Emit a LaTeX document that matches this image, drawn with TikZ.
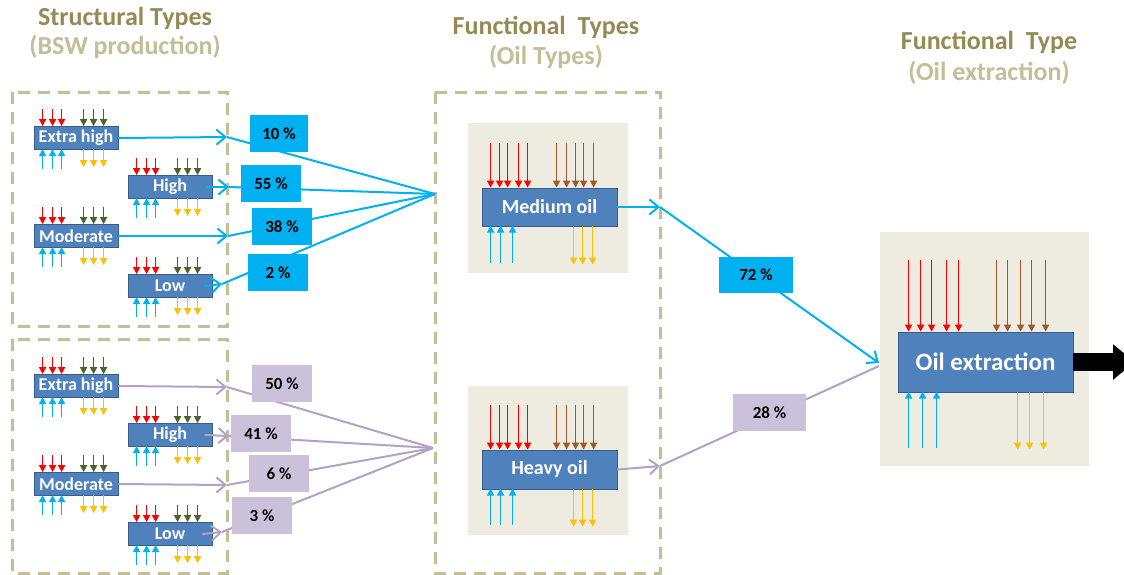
\documentclass[tikz,border=0pt]{standalone}
\usepackage{fontspec}
\setmainfont{Carlito}
\usetikzlibrary{arrows.meta}

\definecolor{boxblue}{HTML}{4F81BD}
\definecolor{boxedge}{HTML}{385D8A}
\definecolor{cyanflow}{HTML}{00B0F0}
\definecolor{lilacflow}{HTML}{B3A2C7}
\definecolor{lilacfill}{HTML}{CCC1DA}
\definecolor{oilbg}{HTML}{EEECE1}
\definecolor{dashtan}{HTML}{C4BD97}
\definecolor{titletan}{HTML}{948A54}
\definecolor{olive}{HTML}{4F6228}
\definecolor{amber}{HTML}{FFC000}
\definecolor{rust}{HTML}{9C5B26}

\tikzstyle{stype}=[draw=boxedge, fill=boxblue, text=white, inner sep=0pt,
  font=\bfseries\fontsize{9}{10}\selectfont, minimum width=42pt, minimum height=11.5pt]
\tikzstyle{ftype}=[stype, font=\bfseries\fontsize{10}{12}\selectfont,
  minimum width=67.5pt, minimum height=19pt]
\tikzstyle{oilback}=[fill=oilbg, inner sep=0pt]
\tikzstyle{share}=[fill=cyanflow, inner sep=0pt, font=\bfseries\fontsize{8.5}{10}\selectfont,
  minimum width=30pt, minimum height=18.5pt]
\tikzstyle{lshare}=[share, fill=lilacfill]
\tikzstyle{headtitle}=[text=titletan, font=\bfseries\fontsize{13}{15}\selectfont]
\tikzstyle{subtitle}=[headtitle, text=dashtan]
\tikzstyle{groupbox}=[draw=dashtan, line width=1.5pt, dash pattern=on 6pt off 4pt]
\tikzstyle{feed}=[line width=1pt, -{Straight Barb[length=4.5pt,width=7.5pt]}]
\tikzstyle{flow}=[line width=0.8pt, -{Triangle[length=3.5pt,width=3.5pt]}]

% three-by-three little flows round a structural type
\newcommand{\smallflows}[1]{%
  \begin{scope}[shift={(#1.north west)}]
    \foreach \dx in {9,19,28} {
      \draw[flow, red] (\dx,-17) -- (\dx,0);
      \draw[flow, cyanflow] (\dx,43) -- (\dx,23);
    }
    \foreach \dx in {50,60,70} {
      \draw[flow, olive] (\dx,-17) -- (\dx,0);
      \draw[flow, amber] (\dx,23) -- (\dx,41);
    }
  \end{scope}}

% flows round a functional type: node, red, brown, top, blue, yellow, height, bottom
\newcommand{\bigflows}[8]{%
  \begin{scope}[shift={(#1.north west)}]
    \foreach \dx in {#2} \draw[flow, red] (\dx,-#4) -- (\dx,0);
    \foreach \dx in {#3} \draw[flow, rust] (\dx,-#4) -- (\dx,0);
    \foreach \dx in {#5} \draw[flow, cyanflow] (\dx,#7+#8) -- (\dx,#7);
    \foreach \dx in {#6} \draw[flow, amber] (\dx,#7) -- (\dx,#7+#8+2);
  \end{scope}}

\begin{document}
\begin{tikzpicture}[x=0.5pt, y=-0.5pt]
  \useasboundingbox (0,0) rectangle (1124,574);

  % headings
  \node[headtitle] (sthead) at (125,18) {Structural Types};
  \node[subtitle] (stsub) at (125,47) {(BSW production)};
  \node[headtitle] (fthead) at (546,27) {Functional\ \ Types};
  \node[subtitle] (ftsub) at (546,57) {(Oil Types)};
  \node[headtitle] (exhead) at (989,42) {Functional\ \ Type};
  \node[subtitle] (exsub) at (989,73) {(Oil extraction)};

  % dashed groups
  \draw[groupbox] (12,92) rectangle (227,326);
  \draw[groupbox] (12,339) rectangle (227,573);
  \draw[groupbox] (435,92) rectangle (660,573);

  % backgrounds
  \node[oilback, minimum width=80pt, minimum height=75pt] (medbg) at (548,198) {};
  \node[oilback, minimum width=80pt, minimum height=74.5pt] (heavybg) at (548,460.5) {};
  \node[oilback, minimum width=104.5pt, minimum height=117pt] (extrbg) at (984.5,349) {};

  % structural types
  \node[stype] (xhA) at (76,138) {Extra high};
  \node[stype] (hiA) at (170,187) {High};
  \node[stype] (modA) at (76,236) {Moderate};
  \node[stype] (lowA) at (170,286) {Low};
  \node[stype] (xhB) at (76,386) {Extra high};
  \node[stype] (hiB) at (170,435) {High};
  \node[stype] (modB) at (76,484) {Moderate};
  \node[stype] (lowB) at (170,534) {Low};
  \foreach \n in {xhA,hiA,modA,lowA,xhB,hiB,modB,lowB} \smallflows{\n};

  % functional types
  \node[ftype] (med) at (549.5,207) {Medium oil};
  \node[ftype, minimum height=19.5pt] (heavy) at (549.5,469.5) {Heavy oil};
  \node[ftype, font=\bfseries\fontsize{12.5}{14}\selectfont,
    minimum width=87.5pt, minimum height=30pt] (extr) at (985.5,362) {Oil extraction};
  \bigflows{med}{9,18,26,37,46}{75,85,94,102,112}{45}{9,19,31}{92,101,111}{38}{37}
  \bigflows{heavy}{9,18,26,37,46}{75,85,94,102,112}{45}{9,19,31}{92,101,111}{39}{36}
  \bigflows{extr}{11,23,34,49,61}{99,110,123,134,148}{72}{11,25,39}{120,132,146}{60}{56}

  % ends of the feeds
  \coordinate (tipxhA) at (227,137);
  \coordinate (tiphiA) at (229,187);
  \coordinate (tipmodA) at (228,236);
  \coordinate (tiplowA) at (222,284);
  \coordinate (tipxhB) at (227,387);
  \coordinate (tiphiB) at (229,436);
  \coordinate (tipmodB) at (227,485);
  \coordinate (tiplowB) at (222,532);
  \coordinate (tipmed) at (660,207);
  \coordinate (tipheavy) at (660,466);
  \coordinate (hubA) at (435,194);
  \coordinate (hubB) at (433,448);
  \coordinate (hubC) at (879,363);

  % feeds
  \draw[feed, cyanflow] (xhA.east) -- (tipxhA);
  \draw[feed, cyanflow] ([xshift=-3pt]hiA.east) -- (tiphiA);
  \draw[feed, cyanflow] (modA.east) -- (tipmodA);
  \draw[feed, cyanflow] ([xshift=-4pt]lowA.east) -- (tiplowA);
  \draw[feed, lilacflow] (xhB.east) -- (tipxhB);
  \draw[feed, lilacflow] ([xshift=-4pt]hiB.east) -- (tiphiB);
  \draw[feed, lilacflow] (modB.east) -- (tipmodB);
  \draw[feed, lilacflow] ([xshift=-5pt]lowB.east) -- (tiplowB);
  \draw[feed, cyanflow] (med.east) -- (tipmed);
  \draw[feed, lilacflow] (heavy.east) -- (tipheavy);
  \foreach \t in {xhA,hiA,modA,lowA}
    \draw[cyanflow, line width=1pt] (tip\t) -- (hubA);
  \foreach \t in {xhB,hiB,modB,lowB}
    \draw[lilacflow, line width=1pt] (tip\t) -- (hubB);
  \draw[feed, cyanflow] (tipmed) -- (hubC);
  \draw[lilacflow, line width=1pt] (tipheavy) -- ([yshift=-1.5pt]hubC);

  % shares
  \node[share, minimum width=29pt] (pxh) at (279,133.5) {10 \%};
  \node[share] (phi) at (271,183.5) {55 \%};
  \node[share] (pmod) at (282,226.5) {38 \%};
  \node[share] (plow) at (278,272.5) {2 \%};
  \node[lshare] (qxh) at (282,383.5) {50 \%};
  \node[lshare] (qhi) at (261,433.5) {41 \%};
  \node[lshare] (qmod) at (279,473.5) {6 \%};
  \node[lshare] (qlow) at (262,515.5) {3 \%};
  \node[share, minimum width=37pt, minimum height=18pt] (pmed) at (756,275) {72 \%};
  \node[lshare, minimum width=36.5pt] (pheavy) at (769.5,412.5) {28 \%};

  % product
  \draw[line width=9pt, -{Triangle[length=11pt,width=17pt]}] (extr.east) -- (1135,362);
\end{tikzpicture}
\end{document}
